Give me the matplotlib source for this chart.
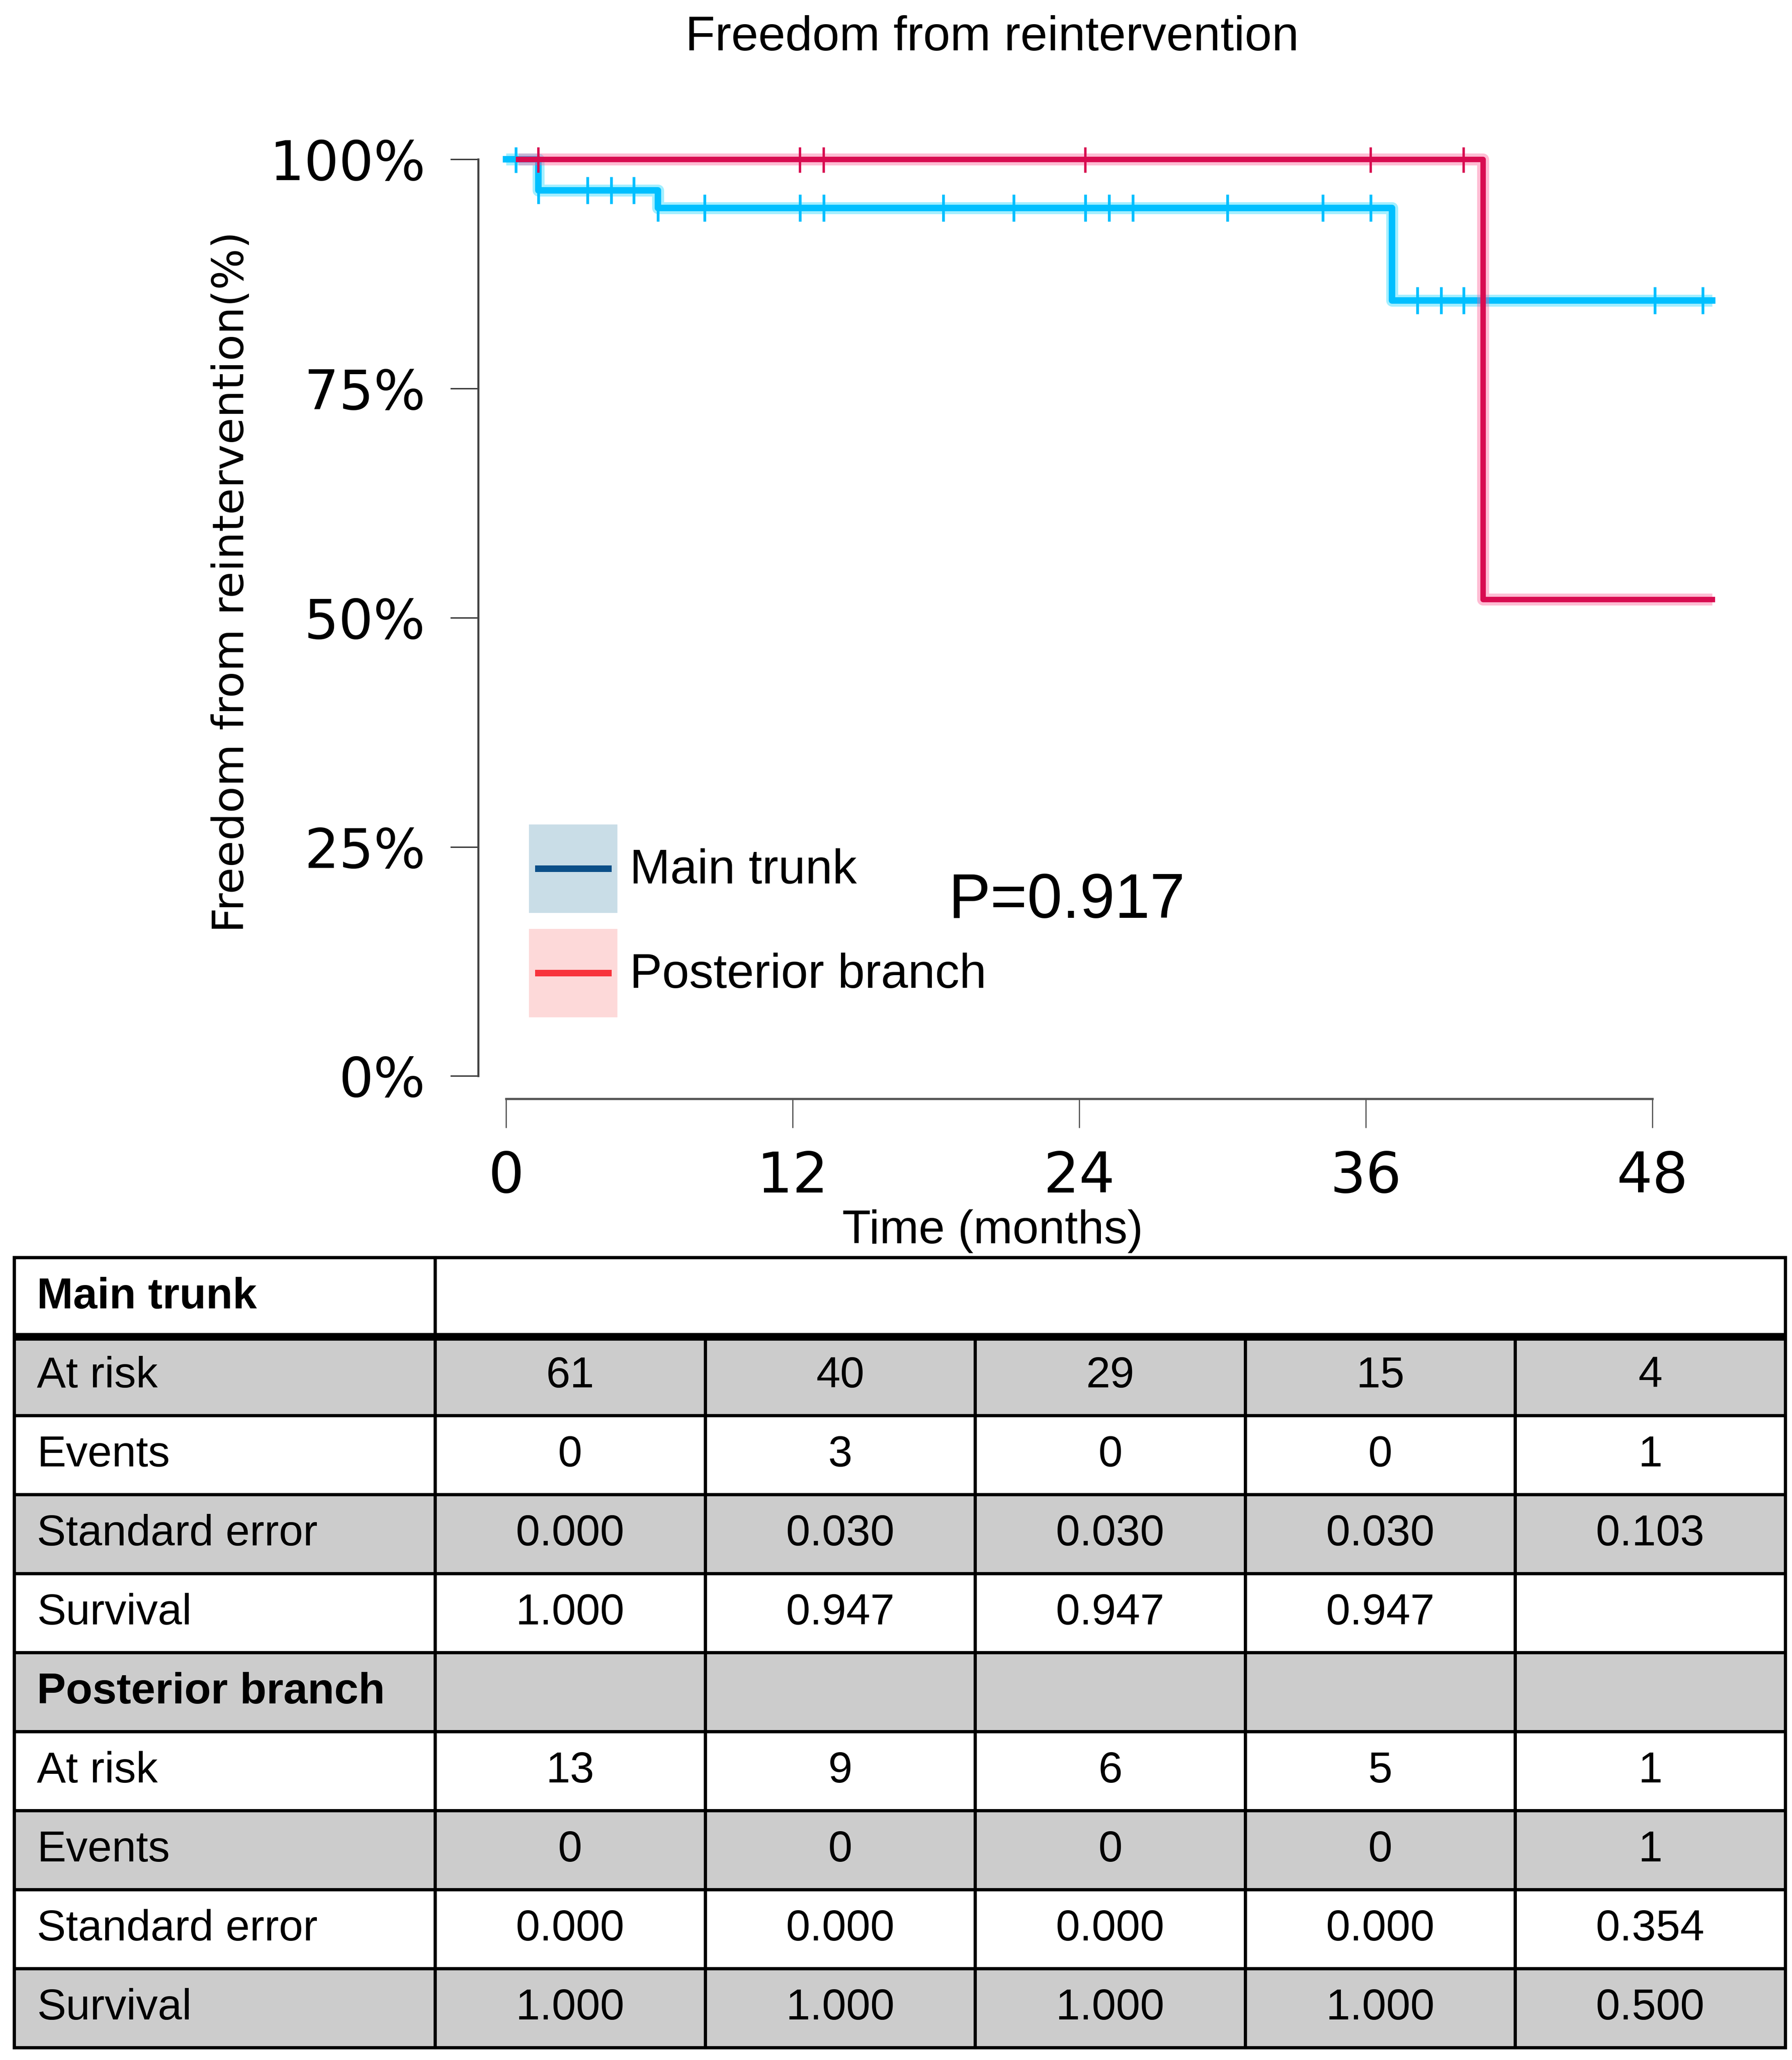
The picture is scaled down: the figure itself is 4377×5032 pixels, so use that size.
import numpy as np
import matplotlib
matplotlib.use("Agg")
import matplotlib.pyplot as plt
from matplotlib.patches import Patch, Rectangle
from matplotlib.legend_handler import HandlerTuple, HandlerPatch

# ---- data ----
month_ticks = [0, 12, 24, 36, 48]
pct_ticks = [0.0, 0.25, 0.50, 0.75, 1.0]
pct_labels = ['0%', '25%', '50%', '75%', '100%']

main_times = [0.0, 1.35, 6.35, 37.1, 50.5]
main_surv = [1.0, 0.966, 0.947, 0.846, 0.846]
main_censor = [0.4, 1.35, 3.4, 4.4, 5.35, 6.35, 8.3, 12.3, 13.3, 18.3, 21.25,
               24.25, 25.25, 26.25, 30.2, 34.2, 36.2, 38.15, 39.15, 40.1, 48.1, 50.1]

post_times = [0.5, 40.9, 50.5]
post_surv = [1.0, 0.52, 0.52]
post_censor = [1.35, 12.3, 13.3, 24.25, 36.2, 40.1]

p_text = 'P=0.917'
groups = ['Main trunk', 'Posterior branch']
row_names = ['At risk', 'Events', 'Standard error', 'Survival']

main_at_risk = ['61', '40', '29', '15', '4']
main_events = ['0', '3', '0', '0', '1']
main_se = ['0.000', '0.030', '0.030', '0.030', '0.103']
main_surv_tab = ['1.000', '0.947', '0.947', '0.947', '']

post_at_risk = ['13', '9', '6', '5', '1']
post_events = ['0', '0', '0', '0', '1']
post_se = ['0.000', '0.000', '0.000', '0.000', '0.354']
post_surv_tab = ['1.000', '1.000', '1.000', '1.000', '0.500']

# ---- figure ----
W, H = 4377, 5032
fig = plt.figure(figsize=(W / 300, H / 300), dpi=300)
fig.patch.set_facecolor('white')
sans = 'Liberation Sans'

cyan, cyan_halo = '#00BFFF', '#33DDFF'
crim, crim_halo = '#D80B50', '#FF5C95'

ax = fig.add_axes([1167.5 / W, 1 - 2684 / H, (4200 - 1167.5) / W, (2684 - 360) / H])
ax.set_xlim(-1.181, 50.81)
ax.set_ylim(-0.0248, 1.013)


def step_at(times, surv, t):
    i = np.searchsorted(times, t, side='right') - 1
    return np.asarray(surv)[i]


# main trunk curve
ax.step(main_times, main_surv, where='post', color=cyan_halo, lw=7.0, alpha=0.45,
        solid_capstyle='butt', zorder=2)
ax.step(main_times, main_surv, where='post', color=cyan, lw=3.8, zorder=3)
ax.plot(main_censor, step_at(main_times, main_surv, main_censor), ls='none',
        marker='|', ms=16, mew=1.6, color=cyan, zorder=3)

# posterior branch curve
ax.step(post_times, post_surv, where='post', color=crim_halo, lw=7.0, alpha=0.4,
        solid_capstyle='butt', zorder=4)
ax.step(post_times, post_surv, where='post', color=crim, lw=3.2, zorder=5)
ax.plot(post_censor, step_at(post_times, post_surv, post_censor), ls='none',
        marker='|', ms=16, mew=1.4, color=crim, zorder=5)

for s in ['top', 'right']:
    ax.spines[s].set_visible(False)
ax.spines['left'].set_bounds(0, 1)
ax.spines['bottom'].set_bounds(0, 48)
ax.spines['left'].set_color('#444444')
ax.spines['bottom'].set_color('#555555')
ax.spines['left'].set_linewidth(1.2)
ax.spines['bottom'].set_linewidth(1.3)

ax.set_xticks(month_ticks)
ax.set_xticklabels([str(m) for m in month_ticks])
ax.set_yticks(pct_ticks)
ax.set_yticklabels(pct_labels)
ax.tick_params(axis='y', length=16.3, width=0.8, color='#333333', pad=14.5, labelsize=32)
ax.tick_params(axis='x', length=17, width=0.7, color='#555555', pad=13, labelsize=33)

ax.set_xlabel('Time (months)', fontsize=27.5, family=sans)
ax.xaxis.set_label_coords(2424 / W, 1 - 3037 / H, transform=fig.transFigure)
ax.xaxis.label.set_va('baseline')
ax.set_ylabel('Freedom from reintervention(%)', fontsize=25.5)
ax.yaxis.set_label_coords(566 / W, 1 - 1422 / H, transform=fig.transFigure)
ax.yaxis.label.set_va('center')

fig.text(2423 / W, 1 - 123 / H, 'Freedom from reintervention', ha='center',
         va='baseline', fontsize=28.5, family=sans)
fig.text(2316 / W, 1 - 2242 / H, p_text, ha='left', va='baseline', fontsize=37, family=sans)


# legend: shaded square with a centred bar
def centre_bar(legend, orig_handle, xdescent, ydescent, width, height, fontsize):
    th, inset = 4.0, 3.5
    return Rectangle((-xdescent + inset, -ydescent + height / 2 - th / 2), width - 2 * inset, th)


bar_main = Patch(facecolor='#0B4F88', edgecolor='none')
bar_post = Patch(facecolor='#F8333C', edgecolor='none')
handles = [(Patch(facecolor='#C9DDE7', edgecolor='none'), bar_main),
           (Patch(facecolor='#FDD9D9', edgecolor='none'), bar_post)]
hmap = {tuple: HandlerTuple(ndivide=1, pad=0),
        bar_main: HandlerPatch(patch_func=centre_bar),
        bar_post: HandlerPatch(patch_func=centre_bar)}
fig.legend(handles, groups, handler_map=hmap,
           loc='upper left', bbox_to_anchor=(1292 / W, 1 - 2014 / H), frameon=False,
           borderpad=0, borderaxespad=0, handlelength=1.82, handleheight=2.42,
           handletextpad=0.25, labelspacing=0.33, prop={'family': sans, 'size': 28.5})

# ---- table ----
tax = fig.add_axes([35 / W, 1 - 5002 / H, (4361 - 35) / W, (5002 - 3072) / H])
col_w = [1028] + [659.6] * 5
edges = np.concatenate([[0], np.cumsum(col_w)])
tax.set_xlim(0, edges[-1])

rows = [(groups[0], None, True)]
for name, vals in zip(row_names, [main_at_risk, main_events, main_se, main_surv_tab]):
    rows.append((name, vals, False))
rows.append((groups[1], [''] * 5, True))
for name, vals in zip(row_names, [post_at_risk, post_events, post_se, post_surv_tab]):
    rows.append((name, vals, False))
n = len(rows)
tax.set_ylim(n, 0)
tax.axis('off')

gray = '#CCCCCC'
tsize = 25.5
lw = 1.9
for r, (name, vals, bold) in enumerate(rows):
    fc = gray if r % 2 == 1 else 'white'
    tax.add_patch(Rectangle((0, r), edges[-1], 1, facecolor=fc, edgecolor='none', zorder=1))
    tax.text(55, r + 0.5, name, ha='left', va='center', fontsize=tsize, family=sans,
             fontweight='bold' if bold else 'normal', zorder=4)
    if vals is None:
        tax.plot([edges[1], edges[1]], [r, r + 1], color='black', lw=lw, zorder=3,
                 clip_on=False)
        continue
    for c, v in enumerate(vals):
        tax.text((edges[c + 1] + edges[c + 2]) / 2, r + 0.5, v, ha='center', va='center',
                 fontsize=tsize, family=sans, zorder=4)
    for e in edges[1:-1]:
        tax.plot([e, e], [r, r + 1], color='black', lw=lw, zorder=3, clip_on=False)

for r in range(n + 1):
    tax.plot([0, edges[-1]], [r, r], color='black', lw=4.5 if r == 1 else lw,
             zorder=3, clip_on=False, solid_capstyle='butt')
tax.plot([0, 0], [0, n], color='black', lw=lw, zorder=3, clip_on=False,
         solid_capstyle='projecting')
tax.plot([edges[-1], edges[-1]], [0, n], color='black', lw=lw, zorder=3, clip_on=False,
         solid_capstyle='projecting')

fig.savefig('out.png', dpi=300, facecolor='white')
